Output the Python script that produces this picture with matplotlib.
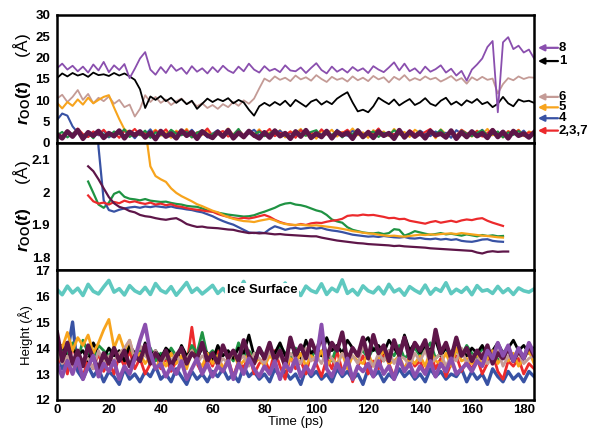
import numpy as np
import matplotlib
matplotlib.use("Agg")
import matplotlib.pyplot as plt

plt.rcParams['font.family'] = 'Liberation Sans'
plt.rcParams['font.weight'] = 'bold'
plt.rcParams['mathtext.fontset'] = 'custom'
plt.rcParams['mathtext.rm'] = 'Liberation Sans:bold'
plt.rcParams['mathtext.it'] = 'Liberation Sans:italic:bold'
plt.rcParams['mathtext.bf'] = 'Liberation Sans:bold'

dt = 2.0  # ps between samples

# ---------------- top panel: r_OO(t) in Angstrom, from t = 0 ----------------
roo_8 = [17.5, 18.6, 17.2, 18.1, 16.8, 17.9, 16.5, 18.4, 17.0, 19.0,
         16.6, 18.2, 17.1, 18.5, 15.2, 17.4, 19.8, 21.3, 17.2, 16.0,
         17.8, 16.4, 18.3, 16.9, 17.6, 16.2, 18.0, 16.7, 17.5, 16.3,
         17.8, 16.6, 18.1, 17.0, 16.4, 17.9, 16.8, 18.6, 17.2, 16.5,
         18.0, 16.9, 17.4, 16.6, 18.2, 17.0, 16.8, 17.7, 16.4, 17.6,
         18.7, 17.1, 16.3, 17.9, 16.7, 17.4, 16.5, 17.8, 16.9, 17.5,
         16.4, 18.0, 17.2, 16.6, 17.7, 18.9, 17.0, 18.6, 16.8, 17.5,
         16.3, 17.9, 16.7, 17.3, 18.2, 16.5, 17.4, 15.8, 16.9, 14.6,
         17.2, 18.4, 19.8, 22.5, 23.9, 7.2, 23.6, 24.8, 22.0, 22.8,
         21.2, 21.9, 19.8]
roo_1 = [15.2, 16.3, 15.6, 16.4, 15.8, 16.2, 15.5, 16.5, 15.9, 16.1,
         15.7, 16.4, 15.8, 16.3, 15.6, 14.8, 12.6, 8.2, 10.9, 10.1,
         11.0, 9.8, 10.6, 9.4, 10.3, 9.1, 9.9, 8.0, 9.2, 10.4,
         9.6, 10.3, 9.8, 10.5, 9.3, 10.1, 9.5, 7.8, 6.4, 8.6,
         9.4, 8.7, 9.6, 8.9, 9.9, 8.6, 10.1, 9.3, 8.5, 9.7,
         10.2, 9.0, 9.8, 9.1, 10.4, 11.2, 11.9, 9.5, 7.4, 7.8,
         7.2, 8.6, 10.6, 9.8, 9.1, 10.2, 8.8, 9.6, 10.3, 8.9,
         9.5, 10.5, 9.2, 8.7, 9.9, 10.6, 9.0, 9.7, 8.8, 10.0,
         9.4, 10.3, 9.1, 9.6, 8.4, 9.2, 10.8, 9.3, 8.6, 10.2,
         9.7, 9.9, 9.4]
roo_6 = [10.4, 11.3, 9.6, 10.8, 12.4, 10.1, 11.5, 9.3, 10.6, 9.8,
         10.9, 9.2, 10.1, 8.4, 9.0, 6.2, 8.0, 11.2, 9.6, 10.8,
         9.4, 10.2, 8.9, 9.8, 10.4, 9.1, 9.7, 8.6, 9.3, 8.2,
         8.9, 8.0, 9.1, 8.4, 9.6, 8.7, 10.0, 9.2, 10.4, 12.8,
         15.1, 14.4, 15.6, 14.8, 15.3, 14.5, 15.8, 14.9, 15.4, 14.6,
         15.9, 15.0, 14.3, 15.5, 14.8, 15.2, 14.4, 15.6, 14.7, 15.3,
         14.5, 15.7, 14.9, 15.4, 14.2, 15.5, 14.8, 15.9, 14.6, 15.2,
         14.7, 15.6, 14.9, 15.3, 14.4, 15.0, 15.7, 14.6, 15.2, 13.9,
         15.4, 14.7, 15.5, 14.8, 15.1, 11.6, 13.8, 15.2, 14.7, 15.6,
         15.0, 15.4, 15.3]
roo_5 = [9.4, 8.1, 9.6, 8.7, 10.2, 9.0, 10.6, 9.3, 10.1, 10.8,
         11.2, 8.3, 5.6, 3.2, 2.4, 1.9, 2.8, 1.5, 2.2, 3.1,
         1.7, 2.5, 1.2, 2.9, 2.0, 3.3, 1.6, 2.4, 1.9, 3.0,
         1.4, 2.6, 2.1, 3.4, 1.8, 2.3, 1.1, 2.8, 2.0, 3.2,
         1.6, 2.5, 1.9, 3.0, 1.3, 2.7, 2.2, 3.3, 1.7, 2.4,
         1.0, 2.9, 2.1, 3.1, 1.5, 2.6, 2.0, 3.4, 1.8, 2.5,
         1.2, 3.0, 2.2, 2.7, 1.6, 3.3, 2.0, 2.6, 1.4, 3.1,
         2.3, 1.9, 2.8, 1.1, 3.2, 2.1, 2.6, 1.7, 3.0, 2.2,
         1.5, 2.9, 2.0, 3.3, 1.8, 2.5, 1.3, 2.8, 2.1, 3.1,
         1.6, 2.7, 2.3]
roo_4 = [5.4, 6.9, 6.4, 3.9, 2.4, 2.0, 1.4, 2.6, 1.8, 2.9,
         1.3, 2.2, 3.0, 1.6, 2.4, 1.1, 2.7, 2.0, 3.2, 1.5,
         2.3, 1.8, 2.9, 1.2, 2.5, 2.0, 3.1, 1.7, 2.6, 1.3,
         2.2, 3.0, 1.6, 2.4, 1.9, 2.8, 1.4, 2.3, 3.1, 1.8,
         2.6, 1.2, 2.1, 2.9, 1.7, 2.4, 1.5, 3.0, 2.2, 1.6,
         2.7, 1.9, 2.5, 1.3, 3.1, 2.0, 1.7, 2.8, 2.3, 1.4,
         2.6, 1.9, 3.2, 1.5, 2.4, 2.0, 2.8, 1.3, 2.5, 1.8,
         2.9, 2.1, 1.6, 2.7, 1.9, 2.4, 1.2, 3.0, 2.2, 1.7,
         2.6, 2.0, 3.1, 1.5, 2.3, 1.8, 2.8, 1.4, 2.5, 2.0,
         2.9, 1.6, 2.2]
roo_2 = [2.3, 1.6, 2.9, 1.9, 3.4, 2.1, 1.4, 2.7, 2.0, 3.1,
         1.7, 2.5, 1.2, 2.8, 2.2, 3.3, 1.8, 2.4, 1.5, 2.9,
         2.1, 3.2, 1.6, 2.6, 1.9, 3.0, 1.3, 2.5, 2.2, 3.4,
         1.7, 2.3, 2.8, 1.5, 2.0, 3.1, 1.8, 2.6, 1.4, 2.9,
         2.2, 3.3, 1.6, 2.4, 1.9, 2.7, 1.2, 3.0, 2.1, 2.5,
         1.7, 3.2, 2.0, 1.5, 2.8, 2.3, 3.1, 1.8, 2.6, 1.3,
         2.9, 2.1, 3.4, 1.6, 2.4, 2.0, 2.7, 1.5, 3.0, 2.2,
         1.8, 2.6, 3.3, 1.4, 2.5, 2.0, 2.9, 1.7, 3.1, 2.3,
         1.9, 2.8, 1.5, 2.4, 3.2, 2.0, 1.6, 2.7, 2.2, 3.0,
         1.8, 2.5, 2.1]
roo_3 = [1.8, 2.6, 1.3, 2.2, 3.0, 1.6, 2.4, 1.1, 2.8, 2.0,
         1.5, 2.7, 2.1, 3.2, 1.4, 2.3, 1.9, 2.9, 1.2, 2.5,
         2.0, 1.6, 3.1, 2.2, 1.8, 2.6, 1.3, 2.4, 3.0, 1.7,
         2.1, 2.8, 1.5, 2.3, 1.9, 3.3, 1.4, 2.5, 2.0, 2.7,
         1.6, 2.2, 3.1, 1.8, 2.4, 1.2, 2.9, 2.1, 1.7, 2.6,
         3.0, 1.5, 2.3, 1.9, 2.8, 1.3, 2.5, 2.0, 3.2, 1.6,
         2.2, 2.7, 1.4, 2.4, 1.8, 3.0, 2.1, 1.5, 2.6, 1.9,
         2.8, 1.3, 2.3, 2.0, 3.1, 1.7, 2.5, 1.4, 2.9, 2.2,
         1.6, 2.4, 3.0, 1.8, 2.1, 2.7, 1.3, 2.5, 1.9, 2.8,
         2.0, 1.5, 2.6]
roo_7 = [2.0, 1.1, 2.7, 1.5, 3.0, 1.0, 2.5, 1.7, 2.8, 1.2,
         2.3, 1.6, 2.9, 1.1, 2.6, 1.8, 2.7, 1.3, 2.4, 0.9,
         2.8, 1.5, 2.2, 1.1, 2.9, 1.7, 2.5, 1.0, 2.7, 1.8,
         1.2, 2.6, 1.5, 3.0, 1.1, 2.4, 1.4, 2.8, 1.8, 1.1,
         2.5, 1.3, 2.9, 1.6, 2.3, 1.0, 2.7, 1.5, 3.0, 1.2,
         2.2, 1.4, 2.8, 1.1, 2.6, 1.8, 2.4, 1.0, 2.9, 1.4,
         2.5, 1.2, 2.7, 1.7, 2.3, 1.0, 3.0, 1.3, 2.6, 1.5,
         2.4, 1.1, 2.8, 1.8, 2.2, 1.3, 2.9, 1.0, 2.5, 1.4,
         2.7, 1.6, 2.3, 1.2, 3.0, 1.4, 2.6, 1.1, 2.8, 1.7,
         2.2, 1.3, 2.5]

# ---------------- middle panel: running r_OO(t) ----------------
mid_start = {'2': 12, '3': 12, '4': 12, '5': 34, '7': 12}
mid_2 = [1.990, 1.972, 1.965, 1.968, 1.962, 1.970, 1.966, 1.974, 1.969, 1.972,
         1.967, 1.964, 1.968, 1.962, 1.965, 1.960, 1.963, 1.957, 1.955, 1.951,
         1.948, 1.946, 1.944, 1.941, 1.940, 1.933, 1.928, 1.924, 1.920, 1.918,
         1.921, 1.919, 1.922, 1.926, 1.930, 1.924, 1.915, 1.908, 1.903, 1.900,
         1.898, 1.902, 1.899, 1.904, 1.906, 1.905, 1.909, 1.912, 1.914, 1.918,
         1.927, 1.929, 1.928, 1.931, 1.929, 1.930, 1.927, 1.924, 1.920, 1.921,
         1.917, 1.918, 1.912, 1.909, 1.906, 1.903, 1.908, 1.911, 1.906, 1.909,
         1.912, 1.908, 1.913, 1.916, 1.914, 1.918, 1.920, 1.912, 1.906, 1.901,
         1.896]
mid_3 = [2.033, 1.998, 1.962, 1.952, 1.968, 1.995, 2.002, 1.986, 1.980, 1.978,
         1.975, 1.979, 1.974, 1.972, 1.970, 1.971, 1.967, 1.964, 1.962, 1.958,
         1.956, 1.955, 1.950, 1.944, 1.940, 1.937, 1.934, 1.931, 1.929, 1.927,
         1.925, 1.926, 1.929, 1.935, 1.940, 1.946, 1.952, 1.960, 1.965, 1.967,
         1.962, 1.960, 1.956, 1.950, 1.944, 1.940, 1.930, 1.916, 1.910, 1.906,
         1.892, 1.884, 1.880, 1.876, 1.874, 1.873, 1.875, 1.871, 1.874, 1.886,
         1.884, 1.866, 1.872, 1.880, 1.876, 1.872, 1.869, 1.871, 1.874, 1.870,
         1.872, 1.869, 1.866, 1.870, 1.867, 1.864, 1.868, 1.865, 1.867, 1.864,
         1.865]
mid_4 = [2.800, 2.450, 2.140, 1.975, 1.945, 1.940, 1.946, 1.950, 1.953, 1.955,
         1.952, 1.956, 1.954, 1.957, 1.955, 1.953, 1.956, 1.952, 1.950, 1.947,
         1.945, 1.941, 1.938, 1.932, 1.926, 1.918, 1.911, 1.905, 1.900, 1.892,
         1.884, 1.876, 1.874, 1.876, 1.874, 1.886, 1.895, 1.890, 1.884, 1.888,
         1.890, 1.887, 1.889, 1.891, 1.888, 1.890, 1.885, 1.882, 1.880, 1.877,
         1.873, 1.869, 1.867, 1.865, 1.863, 1.864, 1.862, 1.865, 1.863, 1.861,
         1.860, 1.862, 1.858, 1.857, 1.859, 1.856, 1.855, 1.857, 1.854, 1.856,
         1.853, 1.855, 1.850, 1.848, 1.847, 1.850, 1.854, 1.855, 1.850, 1.848,
         1.847]
mid_5 = [2.200, 2.080, 2.050, 2.040, 2.032, 2.012, 1.998, 1.988, 1.980, 1.972,
         1.963, 1.957, 1.950, 1.943, 1.938, 1.930, 1.923, 1.918, 1.914, 1.911,
         1.910, 1.908, 1.912, 1.915, 1.918, 1.913, 1.906, 1.902, 1.900, 1.899,
         1.900, 1.898, 1.897, 1.898, 1.896, 1.894, 1.892, 1.890, 1.887, 1.884,
         1.880, 1.878, 1.875, 1.873, 1.872, 1.869, 1.867, 1.865, 1.866, 1.864,
         1.863, 1.865, 1.867, 1.869, 1.868, 1.870, 1.869, 1.871, 1.872, 1.873,
         1.871, 1.874, 1.872, 1.870, 1.868, 1.866, 1.865, 1.863, 1.861, 1.860]
mid_7 = [2.080, 2.065, 2.040, 2.012, 1.985, 1.966, 1.955, 1.950, 1.942, 1.938,
         1.930, 1.926, 1.924, 1.920, 1.917, 1.915, 1.918, 1.920, 1.912, 1.902,
         1.897, 1.893, 1.894, 1.891, 1.890, 1.889, 1.887, 1.885, 1.884, 1.880,
         1.877, 1.874, 1.875, 1.873, 1.874, 1.872, 1.870, 1.871, 1.869, 1.868,
         1.867, 1.866, 1.865, 1.864, 1.864, 1.860, 1.857, 1.854, 1.851, 1.849,
         1.847, 1.845, 1.843, 1.842, 1.840, 1.839, 1.838, 1.837, 1.836, 1.834,
         1.835, 1.833, 1.832, 1.831, 1.830, 1.829, 1.827, 1.826, 1.825, 1.824,
         1.823, 1.822, 1.821, 1.820, 1.819, 1.814, 1.811, 1.816, 1.818, 1.816,
         1.817, 1.817]

# ---------------- bottom panel: height above slab ----------------
ice = [16.25, 16.05, 16.38, 16.12, 16.30, 16.02, 16.45, 16.18, 16.08, 16.35,
       16.60, 16.15, 16.28, 16.04, 16.40, 16.20, 16.10, 16.33, 16.06, 16.48,
       16.22, 16.12, 16.36, 16.03, 16.27, 16.52, 16.14, 16.30, 16.08, 16.24,
       16.41, 16.10, 16.29, 16.05, 16.37, 16.18, 16.56, 16.09, 16.26, 16.15,
       16.43, 16.07, 16.32, 16.19, 16.50, 16.11, 16.28, 16.02, 16.38, 16.21,
       16.13, 16.47, 16.06, 16.30, 16.17, 16.62, 16.10, 16.25, 16.04, 16.39,
       16.20, 16.12, 16.34, 16.08, 16.45, 16.16, 16.27, 16.03, 16.36, 16.22,
       16.11, 16.42, 16.07, 16.29, 16.18, 16.51, 16.09, 16.26, 16.14, 16.33,
       16.05, 16.40, 16.19, 16.24, 16.10, 16.37, 16.13, 16.28, 16.06, 16.31,
       16.20, 16.15, 16.27]
h_4 = [14.0, 13.2, 13.8, 15.0, 13.1, 12.8, 13.3, 12.9, 13.2, 12.7,
       13.1, 12.9, 12.6, 13.2, 12.8, 13.0, 12.7, 13.1, 12.9, 13.3,
       12.8, 13.0, 12.7, 13.2, 12.9, 12.6, 13.1, 12.8, 13.0, 12.7,
       13.1, 12.9, 13.2, 12.8, 13.0, 12.7, 13.3, 12.9, 13.1, 12.8,
       13.0, 12.7, 13.2, 12.9, 13.1, 12.8, 13.0, 12.6, 13.2, 12.9,
       13.1, 12.8, 13.0, 12.7, 13.2, 12.9, 13.1, 12.8, 13.0, 12.6,
       13.2, 12.9, 13.1, 12.7, 13.0, 12.8, 13.2, 12.9, 13.1, 12.8,
       13.0, 12.7, 13.2, 12.9, 13.1, 12.8, 13.0, 12.9, 13.2, 12.7,
       13.1, 12.8, 13.0, 12.6, 13.2, 12.9, 12.7, 13.1, 12.8, 13.0,
       12.7, 13.1, 12.9]
h_2 = [13.3, 13.9, 13.0, 14.1, 13.4, 12.9, 13.6, 13.2, 13.8, 13.1,
       13.5, 13.0, 13.7, 13.3, 13.9, 13.2, 13.6, 13.0, 13.4, 13.8,
       13.2, 13.6, 13.1, 13.5, 14.0, 13.3, 14.8, 13.4, 13.0, 13.7,
       13.3, 13.9, 13.1, 13.6, 12.9, 13.5, 13.2, 13.8, 13.0, 13.4,
       13.6, 13.1, 13.9, 13.3, 12.8, 13.7, 13.2, 13.5, 13.0, 13.8,
       13.4, 12.9, 13.6, 13.2, 13.9, 13.1, 13.5, 12.7, 13.3, 13.7,
       13.0, 13.5, 13.2, 13.8, 13.4, 12.9, 13.6, 13.1, 13.7, 13.3,
       13.5, 13.0, 13.8, 13.2, 13.6, 12.9, 13.4, 13.7, 13.1, 13.5,
       13.2, 13.6, 13.0, 13.4, 13.8, 13.1, 12.8, 13.5, 13.3, 13.6,
       13.0, 13.4, 13.2]
h_3 = [13.6, 14.0, 13.7, 14.2, 13.5, 14.3, 13.8, 13.6, 14.1, 13.9,
       13.7, 14.0, 13.5, 13.8, 14.1, 13.6, 13.9, 13.7, 14.0, 13.5,
       13.8, 13.6, 14.0, 13.7, 13.9, 13.5, 14.1, 13.8, 14.6, 13.7,
       13.9, 13.6, 14.0, 13.8, 13.5, 14.2, 13.7, 13.9, 13.6, 14.0,
       13.7, 13.9, 13.5, 14.1, 13.8, 13.6, 14.0, 13.7, 13.9, 13.6,
       14.0, 13.7, 13.9, 13.5, 14.1, 13.8, 13.6, 14.0, 13.7, 13.9,
       13.6, 14.0, 13.8, 13.5, 13.9, 13.7, 14.1, 13.6, 13.8, 14.0,
       13.7, 13.9, 14.2, 13.6, 13.8, 14.0, 13.5, 13.9, 13.7, 14.1,
       13.8, 13.6, 14.0, 13.7, 13.9, 13.5, 13.8, 14.0, 13.6, 13.9,
       13.7, 14.0, 13.8]
h_1 = [13.8, 14.1, 13.6, 14.0, 13.7, 13.9, 13.5, 14.2, 13.8, 13.6,
       14.0, 13.7, 13.9, 13.5, 14.1, 13.8, 13.6, 14.2, 13.7, 13.9,
       13.6, 14.0, 13.8, 13.5, 14.1, 13.7, 13.9, 13.6, 14.0, 13.8,
       13.5, 14.1, 13.7, 13.9, 13.6, 14.0, 13.8, 14.5, 13.7, 13.9,
       13.6, 14.0, 13.8, 14.2, 13.7, 14.1, 13.9, 13.6, 14.3, 13.8,
       14.0, 13.7, 14.4, 13.9, 14.1, 13.8, 14.3, 14.0, 13.7, 14.2,
       14.4, 13.9, 14.1, 13.8, 14.3, 14.0, 13.7, 14.5, 13.9, 14.2,
       13.8, 14.1, 13.9, 14.3, 13.7, 14.0, 13.8, 14.2, 13.9, 13.7,
       14.0, 13.8, 14.1, 13.7, 13.9, 14.2, 13.8, 14.0, 14.3, 13.9,
       14.1, 13.8, 14.0]
h_5 = [14.3, 14.0, 14.6, 13.9, 14.4, 14.1, 14.5, 13.8, 14.2, 14.7,
       15.1, 14.0, 14.5, 13.9, 14.3, 13.5, 13.8, 13.4, 13.7, 13.2,
       13.6, 13.3, 13.8, 13.4, 13.7, 13.2, 13.9, 13.5, 13.3, 13.8,
       13.4, 13.7, 13.2, 13.6, 13.9, 13.3, 13.5, 13.8, 13.4, 13.6,
       13.3, 13.7, 13.5, 13.9, 13.2, 13.6, 13.4, 13.8, 13.3, 13.7,
       13.5, 13.9, 13.3, 13.6, 13.4, 13.8, 13.2, 13.7, 13.5, 13.4,
       13.8, 13.3, 13.6, 13.9, 13.4, 13.5, 13.7, 13.2, 13.6, 13.4,
       13.7, 13.3, 13.9, 13.5, 13.4, 13.8, 13.3, 14.0, 13.5, 13.6,
       13.4, 13.8, 13.3, 13.6, 13.9, 13.4, 13.7, 13.5, 13.8, 13.3,
       13.6, 13.9, 13.4]
h_6 = [13.9, 13.4, 13.7, 13.3, 13.8, 13.5, 13.6, 13.2, 13.9, 13.4,
       13.7, 13.5, 13.8, 14.0, 14.3, 13.6, 14.1, 13.7, 13.5, 13.9,
       13.4, 13.7, 13.5, 13.8, 13.3, 13.6, 13.9, 13.4, 13.7, 13.5,
       13.8, 13.3, 13.6, 13.4, 13.9, 13.5, 13.7, 13.3, 13.8, 13.6,
       13.4, 13.9, 13.5, 13.7, 13.3, 13.8, 13.6, 13.4, 14.0, 13.5,
       13.7, 13.4, 13.9, 13.6, 13.3, 13.8, 13.5, 13.7, 13.4, 14.1,
       13.6, 13.3, 13.8, 13.5, 13.9, 13.4, 13.7, 13.6, 13.3, 13.8,
       13.5, 13.9, 13.4, 13.6, 13.8, 13.3, 13.7, 13.5, 14.0, 13.4,
       13.7, 13.5, 13.8, 13.4, 13.6, 13.9, 13.3, 13.7, 13.5, 13.8,
       13.4, 13.6, 13.7]
h_7 = [14.6, 13.5, 14.2, 13.4, 13.9, 13.3, 14.1, 13.6, 13.2, 13.8,
       13.4, 14.0, 13.5, 13.9, 13.3, 13.7, 13.5, 14.1, 13.4, 13.8,
       13.5, 13.9, 13.3, 13.7, 14.0, 13.4, 13.8, 13.6, 14.2, 13.5,
       13.8, 13.4, 14.1, 13.6, 13.9, 13.5, 14.3, 13.7, 13.4, 14.0,
       13.6, 14.2, 13.5, 13.9, 13.3, 14.4, 13.7, 14.1, 13.6, 14.3,
       13.8, 14.5, 13.6, 14.2, 13.9, 14.6, 13.5, 14.0, 13.7, 14.4,
       13.6, 14.5, 13.8, 14.1, 13.5, 14.3, 13.7, 14.4, 13.6, 14.2,
       13.9, 14.3, 13.5, 14.7, 13.8, 14.2, 13.6, 14.4, 13.7, 14.0,
       13.5, 13.9, 13.6, 14.1, 13.4, 13.8, 13.6, 14.0, 13.5, 13.9,
       13.6, 14.1, 13.7]
h_8 = [13.4, 12.9, 13.5, 13.0, 13.6, 12.8, 13.3, 13.7, 12.9, 13.4,
       13.1, 13.5, 12.8, 13.3, 13.0, 13.6, 14.3, 14.9, 13.8, 13.2,
       13.4, 12.9, 13.3, 13.0, 13.5, 12.8, 13.2, 13.6, 13.0, 13.4,
       12.9, 13.3, 13.1, 13.5, 12.8, 13.4, 13.0, 13.6, 13.2, 12.9,
       13.3, 13.0, 13.5, 12.8, 13.4, 13.1, 13.6, 12.9, 13.3, 13.0,
       13.5, 14.9, 13.2, 12.9, 13.4, 13.0, 13.6, 12.8, 13.3, 13.1,
       13.4, 12.9, 13.5, 13.0, 13.3, 12.8, 13.6, 13.1, 13.4, 12.9,
       13.3, 13.0, 13.5, 12.9, 13.4, 13.1, 13.6, 13.0, 13.2, 13.4,
       13.1, 13.5, 13.3, 13.9, 13.6, 14.2, 13.7, 14.1, 13.5, 14.0,
       13.6, 14.2, 13.8]

# colours per water label
col = {'1': '#000000', '2': '#ec2a2c', '3': '#1f9343', '4': '#3852a4',
       '5': '#f7a41d', '6': '#c49b96', '7': '#5e1649', '8': '#8a4fae'}
ice_col = '#5fc9c0'

tag_text = ['8', '1', '6', '5', '4', '2,3,7']
tag_y = [22.3, 19.2, 10.8, 8.35, 5.8, 2.9]
tag_col = ['8', '1', '6', '5', '4', '2']


def times(vals, t0=0.0):
    return t0 + dt * np.arange(len(vals))


fig = plt.figure(figsize=(5.89, 4.29), dpi=100)
ax1 = fig.add_axes([0.0968, 0.6667, 0.81, 0.2984])
ax2 = fig.add_axes([0.0968, 0.3706, 0.81, 0.2961])
ax3 = fig.add_axes([0.0968, 0.0676, 0.81, 0.3030])

# top
for key, vals, lw in [('6', roo_6, 1.3), ('1', roo_1, 1.3), ('8', roo_8, 1.3),
                      ('5', roo_5, 1.5), ('4', roo_4, 1.5), ('2', roo_2, 1.5),
                      ('3', roo_3, 1.5), ('7', roo_7, 3.4)]:
    ax1.plot(times(vals), vals, color=col[key], lw=lw)
ax1.set_ylim(0, 30)
ax1.set_yticks([0, 5, 10, 15, 20, 25, 30])
ax1.set_ylabel(r'$r_{\rm OO}(t)$     (Å)', fontsize=12.5)

for txt, y, c in zip(tag_text, tag_y, tag_col):
    ax1.annotate('', xy=(1.008, y), xytext=(1.05, y),
                 xycoords=ax1.get_yaxis_transform(),
                 textcoords=ax1.get_yaxis_transform(),
                 arrowprops=dict(arrowstyle='-|>', color=col[c], lw=1.6,
                                 mutation_scale=9, shrinkA=0, shrinkB=0),
                 annotation_clip=False)
    ax1.text(1.052, y, txt, transform=ax1.get_yaxis_transform(),
             va='center', ha='left', fontsize=9.5, fontweight='bold')

# middle
for key, vals in [('3', mid_3), ('4', mid_4), ('2', mid_2), ('5', mid_5), ('7', mid_7)]:
    ax2.plot(times(vals, mid_start[key]), vals, color=col[key], lw=1.6)
ax2.set_ylim(1.76, 2.152)
ax2.set_yticks([1.8, 1.9, 2.0, 2.1])
ax2.set_yticklabels(['1.8', '1.9', '2', '2.1'])
ax2.set_ylabel(r'$r_{\rm OO}(t)$     (Å)', fontsize=12.5)

# bottom
ax3.plot(times(ice), ice, color=ice_col, lw=2.6)
for key, vals, lw in [('4', h_4, 2.4), ('2', h_2, 2.0), ('3', h_3, 2.0), ('1', h_1, 2.0),
                      ('5', h_5, 2.0), ('6', h_6, 2.0), ('7', h_7, 3.0), ('8', h_8, 2.8)]:
    ax3.plot(times(vals), vals, color=col[key], lw=lw)
ax3.text(79, 16.22, 'Ice Surface', ha='center', va='center', fontsize=9.5,
         fontweight='bold', bbox=dict(facecolor='white', edgecolor='none', pad=1))
ax3.set_ylim(12, 17)
ax3.set_yticks([12, 13, 14, 15, 16, 17])
ax3.set_ylabel('Height (Å)', fontsize=9.5)
ax3.set_xlabel('Time (ps)', fontsize=9.5, labelpad=0)

for ax in (ax1, ax2, ax3):
    ax.set_xlim(0, 184)
    ax.set_xticks(np.arange(0, 181, 20))
    ax.tick_params(length=0, pad=5, labelsize=9.5)
    for s in ax.spines.values():
        s.set_linewidth(1.8)
    ax.yaxis.set_label_coords(-0.05, 0.5)
ax3.tick_params(axis='x', pad=3)
for ax in (ax1, ax2):
    ax.tick_params(labelbottom=False)

fig.savefig('out.png', dpi=100)
